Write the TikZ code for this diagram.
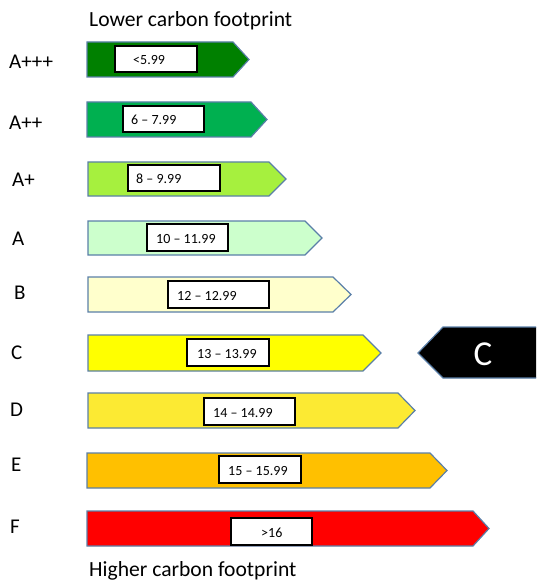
\documentclass[tikz,border=0pt]{standalone}
\usepackage{fontspec}
\setmainfont{Carlito}
\definecolor{edgeblue}{HTML}{5A7FA8}
\definecolor{cAppp}{HTML}{008000}
\definecolor{cApp}{HTML}{00B050}
\definecolor{cAp}{HTML}{A6F03E}
\definecolor{cA}{HTML}{CCFFCC}
\definecolor{cB}{HTML}{FFFFCC}
\definecolor{cC}{HTML}{FFFF00}
\definecolor{cD}{HTML}{FCEA33}
\definecolor{cE}{HTML}{FFC000}
\definecolor{cF}{HTML}{FF0000}
\tikzset{
  arrowline/.style={draw=edgeblue, line width=1.2pt, line join=miter},
  valbox/.style={draw=black, fill=white, line width=1.4pt, rectangle, inner sep=0pt},
  valtext/.style={anchor=base west, inner sep=0pt, font=\fontsize{14}{16}\selectfont},
  classlabel/.style={anchor=base west, inner sep=0pt, font=\fontsize{21}{24}\selectfont},
  headtext/.style={anchor=base west, inner sep=0pt, font=\fontsize{21.6}{24}\selectfont},
}
% #1 colour, #2 left, #3 top, #4 bottom, #5 point start, #6 tip
\newcommand{\ratingshape}[6]{%
  \draw[arrowline, fill=#1] (#2,#3) -- (#5,#3) -- (#6,{(#3+#4)/2}) -- (#5,#4) -- (#2,#4) -- cycle;}
% #1 name, #2 x1, #3 y1, #4 x2, #5 y2, #6 text x, #7 text
\newcommand{\ratingbox}[7]{%
  \node[valbox, minimum width={(#4-#2)*1pt}, minimum height={(#5-#3)*1pt}] (#1) at ({(#2+#4)/2},{(#3+#5)/2}) {};
  \node[valtext] (#1t) at (#6,{(#3+#5)/2+5.5}) {#7};}
\begin{document}
\begin{tikzpicture}[x=1pt,y=-1pt]
\useasboundingbox (0,0) rectangle (536,580);
\clip (0,0) rectangle (536,580);

\node[headtext] (lower) at (89,27) {Lower carbon footprint};
\node[headtext] (higher) at (89,576) {Higher carbon footprint};

\node[classlabel] (lAppp) at (9,68.5) {A+++};
\node[classlabel] (lApp) at (9,129.5) {A++};
\node[classlabel] (lAp) at (12,186.5) {A+};
\node[classlabel] (lA) at (12,245.5) {A};
\node[classlabel] (lB) at (14,299.5) {B};
\node[classlabel] (lC) at (11,359.5) {C};
\node[classlabel] (lD) at (10,416.5) {D};
\node[classlabel] (lE) at (11,471.5) {E};
\node[classlabel] (lF) at (10,533.5) {F};

\ratingshape{cAppp}{87}{42}{77}{233}{249}
\ratingshape{cApp}{87}{102}{137}{251}{267}
\ratingshape{cAp}{88}{162}{196}{269}{286}
\ratingshape{cA}{88}{221}{255}{305}{322}
\ratingshape{cB}{88}{277}{312}{333}{351}
\ratingshape{cC}{88}{335}{371}{363}{381}
\ratingshape{cD}{88}{393}{428}{398}{415}
\ratingshape{cE}{87}{453}{488}{430}{447}
\ratingshape{cF}{87}{511}{546}{473}{489}

\ratingbox{bAppp}{115}{46}{197}{72}{133}{<5.99}
\ratingbox{bApp}{123}{106}{204}{132}{131}{6 – 7.99}
\ratingbox{bAp}{128}{165}{220}{191}{136}{8 – 9.99}
\ratingbox{bA}{147}{224}{228}{251}{156}{10 – 11.99}
\ratingbox{bB}{168}{281}{269}{308}{177}{12 – 12.99}
\ratingbox{bC}{187}{339}{269}{366}{197}{13 – 13.99}
\ratingbox{bD}{204}{398}{295}{425}{213}{14 – 14.99}
\ratingbox{bE}{219}{456}{301}{483}{228}{15 – 15.99}
\ratingbox{bF}{231}{518}{312}{545}{261}{>16}

\draw[arrowline, fill=black] (545,327) -- (443,327) -- (418,353) -- (443,378) -- (545,378);
\node[anchor=base, inner sep=0pt, text=white, font=\fontsize{35}{40}\selectfont] (yourC) at (483,365) {C};
\end{tikzpicture}
\end{document}
